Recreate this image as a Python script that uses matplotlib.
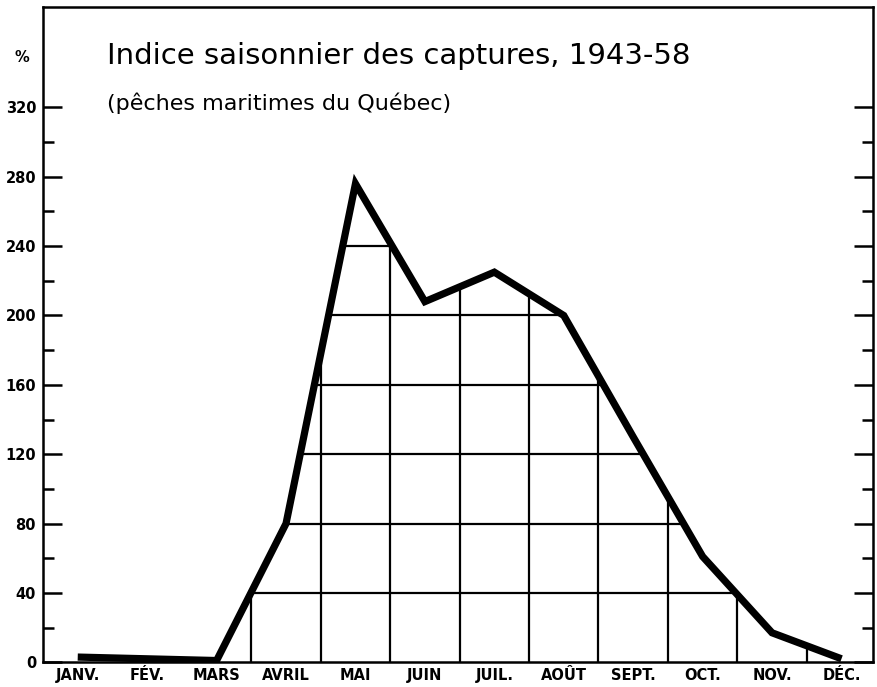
import numpy as np
import matplotlib
matplotlib.use('Agg')
import matplotlib.pyplot as plt
from matplotlib.ticker import FixedLocator

# seasonal index of catches, Quebec sea fisheries 1943-58
months = ['JANV.', 'FÉV.', 'MARS', 'AVRIL', 'MAI', 'JUIN', 'JUIL.', 'AOÛT', 'SEPT.', 'OCT.', 'NOV.', 'DÉC.']
index_pct = [3, 2, 1, 80, 276, 208, 225, 200, 130, 61, 17, 2]
y_ticks = [0, 40, 80, 120, 160, 200, 240, 280, 320]
y_minor = [20, 60, 100, 140, 180, 220, 260, 300]
grid_x = [2.5, 3.5, 4.5, 5.5, 6.5, 7.5, 8.5, 9.5, 10.5]
grid_y = [40, 80, 120, 160, 200, 240]

title = 'Indice saisonnier des captures, 1943-58'
subtitle = '(pêches maritimes du Québec)'

fig = plt.figure(figsize=(8.78, 6.87), dpi=100)
ax = fig.add_axes([0.049, 0.036, 0.945, 0.954])

x = np.arange(len(months))
ax.set_xlim(-0.5, 11.45)
ax.set_ylim(0, 378)

# area under the curve, used only to clip the hatch grid
poly = ax.fill_between(x, 0, index_pct, facecolor='none', edgecolor='none')
clip = poly.get_paths()[0]

for gx in grid_x:
    ln, = ax.plot([gx, gx], [0, 400], color='black', lw=1.6, zorder=2)
    ln.set_clip_path(clip, ax.transData)
for gy in grid_y:
    ln, = ax.plot([-1, 12], [gy, gy], color='black', lw=1.6, zorder=2)
    ln.set_clip_path(clip, ax.transData)

ax.plot(x, index_pct, color='black', lw=5.2, solid_capstyle='butt', solid_joinstyle='miter', zorder=3)

for s in ax.spines.values():
    s.set_linewidth(1.8)

ax.set_xticks(x)
ax.set_xticklabels(months, fontsize=10.5, fontweight='bold')
ax.tick_params(axis='x', length=0, pad=4)

ax.set_yticks(y_ticks)
ax.set_yticklabels([str(v) for v in y_ticks], fontsize=10.5, fontweight='bold')
ax.yaxis.set_minor_locator(FixedLocator(y_minor))
ax.tick_params(axis='y', which='major', direction='in', length=14, width=1.8, pad=5, right=True)
ax.tick_params(axis='y', which='minor', direction='in', length=8, width=1.8, right=True)

fig.text(22 / 878, 1 - 58 / 687, '%', fontsize=10.5, fontweight='bold', ha='center', va='center')

ax.text(0.077, 0.913, title, transform=ax.transAxes, fontsize=21, ha='left', va='baseline')
ax.text(0.077, 0.842, subtitle, transform=ax.transAxes, fontsize=16, ha='left', va='baseline')

fig.savefig('out.png', dpi=100)
